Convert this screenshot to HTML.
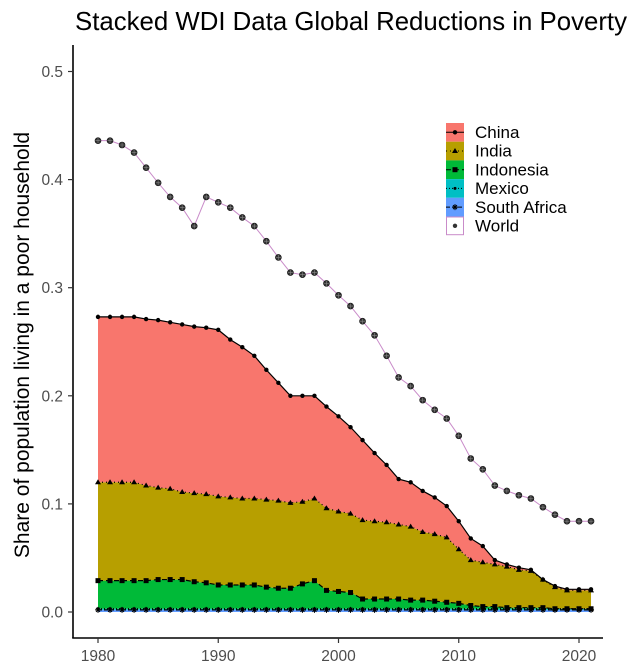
<!DOCTYPE html>
<html><head><meta charset="utf-8"><style>
body{margin:0;background:#fff;width:633px;height:667px;overflow:hidden}
svg{display:block;font-family:"Liberation Sans",Arial,sans-serif}
</style></head><body>
<svg id="chart" width="633" height="667">
<text x="351" y="30" text-anchor="middle" font-size="25.8" fill="#000">Stacked WDI Data Global Reductions in Poverty</text>
<text transform="translate(29,345) rotate(-90)" text-anchor="middle" font-size="21" fill="#000">Share of population living in a poor household</text>
<g id="plot"></g>
<g id="axes"></g>
<g id="legend"></g>
</svg>
<script>
const years = [];
for (let y = 1980; y <= 2021; y++) years.push(y);
const southAfrica = [.002,.002,.002,.002,.002,.002,.002,.002,.002,.002,.002,.002,.002,.002,.002,.002,.002,.002,.002,.002,.002,.002,.002,.002,.002,.002,.002,.002,.002,.002,.002,.002,.002,.002,.002,.002,.002,.002,.002,.002,.002,.002];
const mexico = [.001,.001,.001,.001,.001,.001,.001,.001,.001,.001,.001,.001,.001,.001,.001,.001,.001,.001,.001,.001,.001,.001,.001,.001,.001,.001,.001,.001,.001,.001,.001,.001,.001,.001,.001,.001,.001,.001,.001,.001,.001,.001];
const indonesia = [.026,.026,.026,.026,.026,.027,.027,.027,.025,.024,.022,.022,.022,.022,.020,.019,.019,.023,.026,.017,.016,.015,.009,.009,.009,.009,.008,.008,.007,.006,.005,.003,.002,.002,.001,.001,.001,.001,0,0,0,0];
const india = [.091,.091,.091,.091,.088,.085,.084,.081,.082,.082,.082,.081,.080,.080,.081,.081,.079,.076,.076,.076,.074,.073,.073,.072,.071,.069,.068,.063,.062,.060,.050,.042,.041,.039,.038,.035,.034,.026,.020,.017,.017,.017];
const china = [.153,.153,.153,.153,.154,.155,.154,.155,.154,.154,.154,.146,.140,.132,.120,.109,.099,.098,.095,.094,.088,.080,.074,.063,.053,.042,.041,.038,.034,.029,.026,.020,.015,.004,.002,.002,.001,0,.001,.001,.001,.001];
const world = [.436,.436,.432,.425,.411,.397,.384,.374,.357,.384,.379,.374,.365,.357,.343,.328,.314,.312,.314,.304,.293,.283,.269,.256,.237,.217,.209,.196,.187,.179,.163,.142,.132,.117,.112,.108,.105,.097,.090,.084,.084,.084];
const yTicks = [0, 0.1, 0.2, 0.3, 0.4, 0.5];
const yTickLabels = ["0.0","0.1","0.2","0.3","0.4","0.5"];
const xTicks = [1980, 1990, 2000, 2010, 2020];

const NS = "http://www.w3.org/2000/svg";
const xs = v => 98 + (v - 1980) * 12.025;
const ys = v => 612 - v * 1081;
function mk(tag, attrs, parent){const e=document.createElementNS(NS,tag);for(const k in attrs)e.setAttribute(k,attrs[k]);parent.appendChild(e);return e;}
const plot = document.getElementById('plot');
const axes = document.getElementById('axes');
const legend = document.getElementById('legend');

const series = [
 {name:'south-africa', label:'South Africa', vals:southAfrica, fill:'#619CFF', dash:'4,2', marker:'star'},
 {name:'mexico', label:'Mexico', vals:mexico, fill:'#00BFC4', dash:'1,2', marker:'dot'},
 {name:'indonesia', label:'Indonesia', vals:indonesia, fill:'#00BA38', dash:'5,3', marker:'square'},
 {name:'india', label:'India', vals:india, fill:'#B79F00', dash:'1,3', marker:'triangle'},
 {name:'china', label:'China', vals:china, fill:'#F8766D', dash:'', marker:'circle'}
];
let base = years.map(()=>0);
const tops = [];
series.forEach(s=>{
  const top = base.map((b,i)=>b + s.vals[i]);
  let d = 'M' + years.map((y,i)=>xs(y)+','+ys(top[i])).join(' L');
  for (let i = years.length-1; i>=0; i--) d += ' L' + xs(years[i]) + ',' + ys(base[i]);
  d += 'Z';
  const a = mk('path',{d:d, fill:s.fill, stroke:'none'}, plot);
  
  
  tops.push({s:s, top:top});
  base = top;
});
function marker(type, cx, cy, parent, col){
  col = col || '#000';
  let e;
  if (type==='circle') e = mk('circle',{cx:cx,cy:cy,r:2.2,fill:col},parent);
  else if (type==='dot') e = mk('circle',{cx:cx,cy:cy,r:1.5,fill:col},parent);
  else if (type==='square') e = mk('rect',{x:cx-2.5,y:cy-2.5,width:5,height:5,fill:col},parent);
  else if (type==='triangle') e = mk('path',{d:`M${cx},${cy-3} L${cx+3},${cy+2} L${cx-3},${cy+2}Z`,fill:col},parent);
  else if (type==='star') e = mk('path',{d:`M${cx-3},${cy} L${cx+3},${cy} M${cx},${cy-3} L${cx},${cy+3} M${cx-2},${cy-2} L${cx+2},${cy+2} M${cx-2},${cy+2} L${cx+2},${cy-2}`,stroke:col,'stroke-width':1,fill:'none'},parent);
  else if (type==='cross') { e = mk('g',{},parent); mk('circle',{cx:cx,cy:cy,r:3,fill:'#333',stroke:'#111','stroke-width':0.6},e); mk('path',{d:`M${cx-2.5},${cy} L${cx+2.5},${cy} M${cx},${cy-2.5} L${cx},${cy+2.5}`,stroke:'#888','stroke-width':0.6},e);}
  return e;
}
tops.forEach(t=>{
  const ln = mk('polyline',{points:years.map((y,i)=>xs(y)+','+ys(t.top[i])).join(' '),fill:'none',stroke:'#000','stroke-width':1.2,'stroke-dasharray':t.s.dash},plot);
  
  
  years.forEach((y,i)=>{
    const m = marker(t.s.marker, xs(y), ys(t.top[i]), plot);
    
    
  });
});
const wl = mk('polyline',{points:years.map((y,i)=>xs(y)+','+ys(world[i])).join(' '),fill:'none',stroke:'#C98BC9','stroke-width':1},plot);


years.forEach((y,i)=>{
  const m = marker('cross', xs(y), ys(world[i]), plot);
  
  
});

// axes
const ya = mk('line',{x1:73,y1:45,x2:73,y2:638,stroke:'#000','stroke-width':1.6},axes);


const xa = mk('line',{x1:72.2,y1:638,x2:603,y2:638,stroke:'#000','stroke-width':1.6},axes);


yTicks.forEach((v,i)=>{
  mk('line',{x1:68,y1:ys(v),x2:73,y2:ys(v),stroke:'#333','stroke-width':1.2},axes);
  const t = mk('text',{x:63,y:ys(v)+5.5,'text-anchor':'end','font-size':15.5,fill:'#4d4d4d'},axes);
  t.textContent = yTickLabels[i];
  
  
});
xTicks.forEach(v=>{
  mk('line',{x1:xs(v),y1:638,x2:xs(v),y2:643,stroke:'#333','stroke-width':1.2},axes);
  const t = mk('text',{x:xs(v),y:661,'text-anchor':'middle','font-size':15.5,fill:'#4d4d4d'},axes);
  t.textContent = v;
  
  
});

// legend
const legItems = [series[4],series[3],series[2],series[1],series[0]];
legItems.forEach((s,i)=>{
  const y0 = 123 + i*18.7;
  const g = mk('g',{},legend);
  
  
  mk('rect',{x:446,y:y0,width:18,height:18.7,fill:s.fill},g);
  mk('line',{x1:446,y1:y0+9.3,x2:464,y2:y0+9.3,stroke:'#000','stroke-width':1,'stroke-dasharray':s.dash},g);
  marker(s.marker,455,y0+9.3,g);
  const t = mk('text',{x:475,y:y0+15,'font-size':17,fill:'#000'},g);
  t.textContent = s.label;
});
{
  const y0 = 123 + 5*18.7;
  const g = mk('g',{},legend);
  
  
  mk('rect',{x:446.5,y:y0+0.5,width:17,height:17.7,fill:'#fff',stroke:'#C98BC9','stroke-width':1},g);
  mk('circle',{cx:455,cy:y0+9.3,r:2.2,fill:'#333'},g);
  const t = mk('text',{x:475,y:y0+15,'font-size':17,fill:'#000'},g);
  t.textContent = 'World';
}
</script>
</body></html>
